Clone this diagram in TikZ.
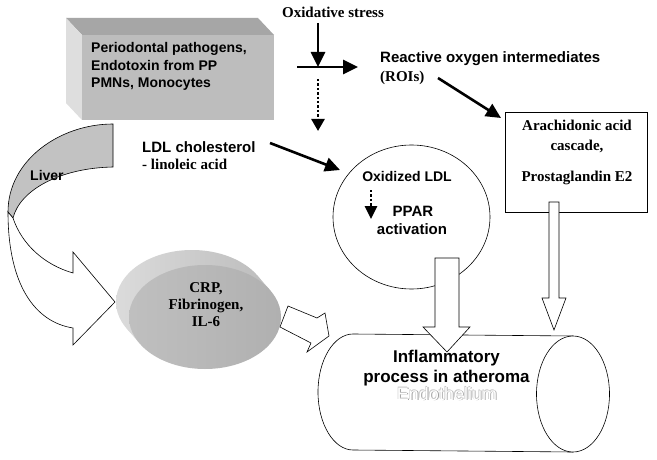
\documentclass[tikz,border=0pt]{standalone}
\usepackage{fontspec}
\setmainfont{Liberation Serif}
\newfontfamily\arialf{Liberation Sans}
\usetikzlibrary{arrows.meta}
\begin{document}
\begin{tikzpicture}[x=1pt,y=-1pt,
  sb/.style={font=\arialf\bfseries\fontsize{14}{17}\selectfont, inner sep=0},
  sbl/.style={font=\arialf\bfseries\fontsize{15}{18}\selectfont, inner sep=0},
  sbx/.style={font=\arialf\bfseries\fontsize{17}{20}\selectfont, inner sep=0},
  tb/.style={font=\bfseries\fontsize{15}{18}\selectfont, inner sep=0},
  endo/.style={font=\arialf\fontsize{18}{20}\selectfont, inner sep=0},
  thickarrow/.style={line width=2.6pt, -{Triangle[length=15pt,width=14pt]}},
  dotarrow/.style={line width=2.6pt, dash pattern=on 2.4pt off 2pt, -{Triangle[length=12pt,width=13pt]}},
  hollow/.style={draw=black, line width=0.6pt, fill=white, line join=miter},
  thinline/.style={draw=black, line width=0.6pt}]
\useasboundingbox (0,0) rectangle (657,460);
\fill[white] (0,0) rectangle (657,460);

% 3D grey box
\fill[gray!70] (82,35) -- (274,35) -- (258,18) -- (66,18) -- cycle;
\fill[gray!26] (82,35) -- (66,18) -- (66,103) -- (82,120) -- cycle;
\fill[gray!52] (82,35) rectangle (274,120);
\node[sb, anchor=base west] (pp1) at (91,53) {Periodontal pathogens,};
\node[sb, anchor=base west] (pp2) at (91,71) {Endotoxin from PP};
\node[sb, anchor=base west] (pp3) at (91,88) {PMNs, Monocytes};

% Oxidative stress
\node[tb, anchor=base] (ox) at (333,18) {Oxidative stress};
\coordinate (vs) at (318,23);
\coordinate (ve) at (318,67);
\coordinate (hs) at (297,67);
\coordinate (he) at (358,67);
\coordinate (ds) at (318,79);
\coordinate (de) at (318,131);
\draw[thickarrow] (vs) -- (ve);
\draw[thickarrow] (hs) -- (he);
\draw[dotarrow] (ds) -- (de);

% ROI
\node[sbl, anchor=base west] (roi) at (380,63) {Reactive oxygen intermediates};
\node[tb, anchor=base west] (roi2) at (380,82) {(ROIs)};
\coordinate (rs) at (438,78);
\coordinate (re) at (501,118);
\draw[thickarrow] (rs) -- (re);

% Arachidonic box
\node[thinline, fill=white, minimum width=142pt, minimum height=100pt, inner sep=0] (arach) at (576,162) {};
\node[tb, anchor=base] (ar1) at (577,131) {Arachidonic acid};
\node[tb, anchor=base] (ar2) at (577,150) {cascade,};
\node[tb, anchor=base] (ar3) at (577,182) {Prostaglandin E2};

% LDL
\node[sbl, anchor=base west] (ldl1) at (142,153) {LDL cholesterol};
\node[tb, anchor=base west] (ldl2) at (142,170) {- linoleic acid};
\coordinate (ls) at (270,143);
\coordinate (le) at (340,170);
\draw[thickarrow] (ls) -- (le);

% Oxidized LDL circle
\draw[thinline, fill=white] (411.5,217) ellipse [x radius=78.5, y radius=72];
\node[sb, anchor=base] (oxl) at (407,182) {Oxidized LDL};
\node[sbl, anchor=base] (ppar1) at (413,216) {PPAR};
\node[sbl, anchor=base] (ppar2) at (412,234) {activation};
\coordinate (ss) at (371,190);
\coordinate (se) at (371,219);
\draw[dotarrow, -{Triangle[length=13pt,width=12pt]}] (ss) -- (se);

% Liver arrow
\filldraw[thinline, fill=gray!48] (113,124) .. controls (60,124) and (8,160) .. (8,212)
  -- (13,218) .. controls (20,190) and (60,168) .. (113,167) -- cycle;
\filldraw[hollow] (13,218) .. controls (22,245) and (45,265) .. (73,273)
  -- (73,252) -- (115,302) -- (73,345) -- (73,328)
  .. controls (35,322) and (8,285) .. (8,212) -- cycle;
\node[sb, anchor=base west] (liver) at (30,180) {Liver};

% CRP disc
\shade[left color=gray!28, right color=gray!52] (257.3,275.5) -- (270.3,290.5) -- (139.7,343.5) -- (126.7,328.5) -- cycle;
\shade[left color=gray!28, right color=gray!52] (192,302) ellipse [x radius=76, y radius=52];
\shade[left color=gray!50, right color=gray!62] (205,317) ellipse [x radius=76, y radius=52];
\node[tb, anchor=base] (crp1) at (206,292) {CRP,};
\node[tb, anchor=base] (crp2) at (206,309) {Fibrinogen,};
\node[tb, anchor=base] (crp3) at (206,326) {IL-6};

% Cylinder
\filldraw[thinline, fill=white] (573,336) -- (353,334) .. controls (333.7,334) and (318,360) .. (318,392)
  .. controls (318,424) and (333.7,450) .. (353,450) -- (573,452) -- cycle;
\draw[thinline, fill=white] (573,394) ellipse [x radius=36.5, y radius=58];
\node[sbx, anchor=base] (inf1) at (446.5,362) {Inflammatory};
\node[sbx, anchor=base] (inf2) at (446.5,382) {process in atheroma};
\node[endo, anchor=base, text=gray!75] (en1) at (447.8,400.8) {Endothelium};
\node[endo, anchor=base, text=gray!45] (en2) at (446.3,399.3) {Endothelium};
\node[endo, anchor=base, text=white] (en3) at (447,400) {Endothelium};

% Hollow arrows
\filldraw[hollow] (435,258) -- (459,258) -- (459,327) -- (470,327) -- (447,352) -- (423,327) -- (435,327) -- cycle;
\filldraw[hollow] (549,202) -- (559,202) -- (559,298) -- (566,298) -- (554,330) -- (542,298) -- (549,298) -- cycle;
\filldraw[hollow] (288,306) -- (317,318) -- (325,313) -- (329,336) -- (307,352) -- (311,343) -- (280,327) -- cycle;
\end{tikzpicture}
\end{document}
